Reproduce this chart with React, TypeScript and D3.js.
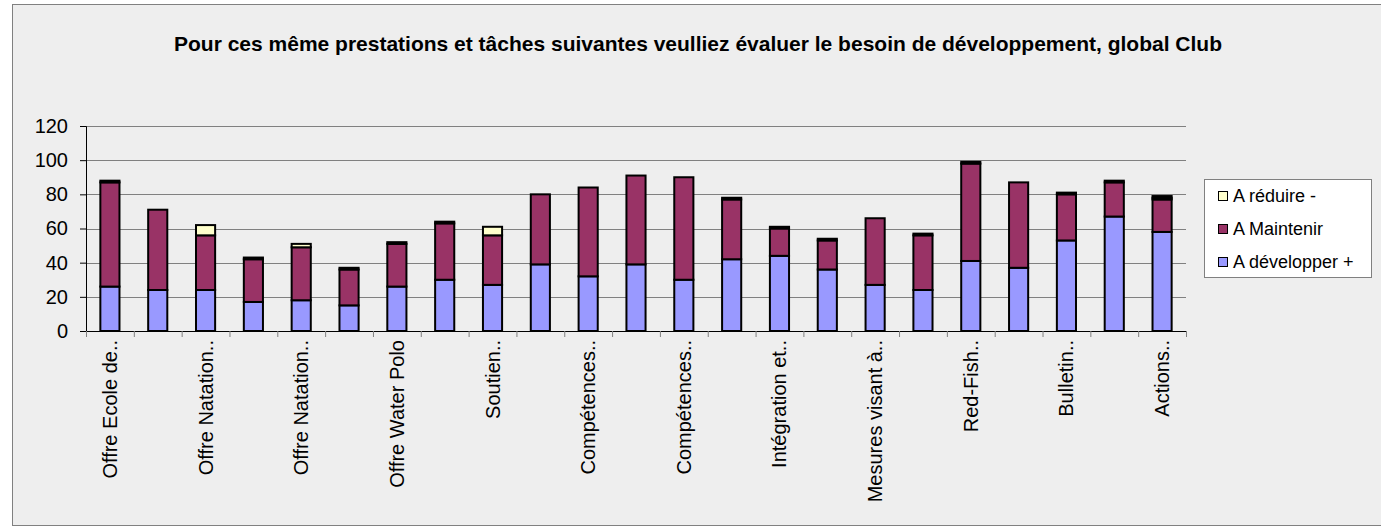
import React, { useEffect, useRef } from 'react';
import * as d3 from 'd3';

const title = 'Pour ces même prestations et tâches suivantes veulliez évaluer le besoin de développement, global Club';

// one label per category, Excel only shows every other one
const categories = [
  'Offre Ecole de..', 'c2', 'Offre Natation..', 'c4', 'Offre Natation..', 'c6',
  'Offre Water Polo', 'c8', 'Soutien..', 'c10', 'Compétences..', 'c12',
  'Compétences..', 'c14', 'Intégration et..', 'c16', 'Mesures visant à..', 'c18',
  'Red-Fish..', 'c20', 'Bulletin..', 'c22', 'Actions..',
];
const shownLabel = categories.map((c, i) => (i % 2 === 0 ? c : ''));

const developper = [26, 24, 24, 17, 18, 15, 26, 30, 27, 39, 32, 39, 30, 42, 44, 36, 27, 24, 41, 37, 53, 67, 58];
const maintenir = [61, 47, 32, 25, 31, 21, 25, 33, 29, 41, 52, 52, 60, 35, 16, 17, 39, 32, 57, 50, 27, 20, 19];
const reduire = [0, 0, 6, 0, 2, 0, 0, 0, 5, 0, 0, 0, 0, 0, 0, 0, 0, 0, 0, 0, 0, 0, 1];
const sansAvis = [1, 0, 0, 1, 0, 1, 1, 1, 0, 0, 0, 0, 0, 1, 1, 1, 0, 1, 1, 0, 1, 1, 1];

const seriesNames = ['A développer +', 'A Maintenir', 'A réduire -', 'Sans avis'];
const seriesColors = ['#9999FF', '#993366', '#FFFFCC', '#000000'];
const legendOrder = [2, 1, 0];
const yTicks = [0, 20, 40, 60, 80, 100, 120];

const W = 1381;
const H = 527;
const FONT = 'Arial, "Liberation Sans", sans-serif';

const App: React.FC = () => {
  const svgRef = useRef<SVGSVGElement>(null);

  useEffect(() => {
    if (!svgRef.current) return;
    const svg = d3.select(svgRef.current);
    svg.selectAll('*').remove();

    const plot = { left: 86, right: 1186, top: 126, bottom: 331 };

    svg.append('rect')
      .attr('x', 12.5).attr('y', 4.5)
      .attr('width', W).attr('height', 521)
      .attr('fill', '#EEEEEE').attr('stroke', '#808080').attr('stroke-width', 1);

    svg.append('text')
      .attr('x', 698).attr('y', 51)
      .attr('text-anchor', 'middle')
      .attr('font-family', FONT).attr('font-weight', 'bold').attr('font-size', 21)
      .attr('fill', '#000')
      .text(title);

    const x = d3.scaleBand<number>()
      .domain(categories.map((_, i) => i))
      .range([plot.left, plot.right])
      .padding(0);
    const y = d3.scaleLinear().domain([0, 120]).range([plot.bottom, plot.top]);

    // gridlines
    svg.append('g')
      .selectAll('line')
      .data(yTicks.filter(t => t > 0))
      .enter()
      .append('line')
      .attr('x1', plot.left).attr('x2', plot.right)
      .attr('y1', d => Math.round(y(d)) + 0.5).attr('y2', d => Math.round(y(d)) + 0.5)
      .attr('stroke', '#808080').attr('stroke-width', 1);

    // stacked bars
    const rows = categories.map((_, i) => ({
      i,
      s0: developper[i], s1: maintenir[i], s2: reduire[i], s3: sansAvis[i],
    }));
    const stack = d3.stack<any>().keys(['s0', 's1', 's2', 's3']);
    const layers = stack(rows);
    const barW = x.bandwidth() * 0.4;

    layers.forEach((layer, k) => {
      svg.append('g')
        .selectAll('rect')
        .data(layer.filter(d => d[1] - d[0] > 0))
        .enter()
        .append('rect')
        .attr('x', d => (x(d.data.i) || 0) + (x.bandwidth() - barW) / 2)
        .attr('y', d => y(d[1]))
        .attr('width', barW)
        .attr('height', d => y(d[0]) - y(d[1]))
        .attr('fill', seriesColors[k])
        .attr('stroke', '#000').attr('stroke-width', 2);
    });

    // y axis
    const yAxis = svg.append('g').attr('transform', `translate(${plot.left},0)`)
      .call(d3.axisLeft(y).tickValues(yTicks).tickSize(6).tickPadding(12));
    yAxis.select('.domain').attr('stroke', '#000');
    yAxis.selectAll('line').attr('stroke', '#000');
    yAxis.selectAll('text')
      .attr('font-family', FONT).attr('font-size', 20).attr('fill', '#000');

    // x axis
    const xTickPos = d3.range(categories.length + 1).map(i => plot.left + i * x.step());
    const xg = svg.append('g');
    xg.append('line')
      .attr('x1', plot.left).attr('x2', plot.right)
      .attr('y1', plot.bottom + 0.5).attr('y2', plot.bottom + 0.5)
      .attr('stroke', '#000');
    xg.selectAll('line.tk')
      .data(xTickPos)
      .enter()
      .append('line')
      .attr('class', 'tk')
      .attr('x1', d => d + 0.5).attr('x2', d => d + 0.5)
      .attr('y1', plot.bottom).attr('y2', plot.bottom + 6)
      .attr('stroke', '#808080');
    xg.selectAll('text')
      .data(categories.map((_, i) => i))
      .enter()
      .append('text')
      .attr('transform', d => `translate(${(x(d) || 0) + x.bandwidth() / 2},${plot.bottom + 9}) rotate(-90)`)
      .attr('text-anchor', 'end')
      .attr('dy', '0.35em')
      .attr('font-family', FONT).attr('font-size', 20).attr('fill', '#000')
      .text(d => shownLabel[d]);

    // legend
    const lg = svg.append('g');
    lg.append('rect')
      .attr('x', 1204.5).attr('y', 179.5).attr('width', 167).attr('height', 98)
      .attr('fill', '#FFFFFF').attr('stroke', '#808080');
    legendOrder.forEach((k, j) => {
      const cy = 196 + j * 33;
      lg.append('rect')
        .attr('x', 1218.5).attr('y', cy - 4.5).attr('width', 9).attr('height', 9)
        .attr('fill', seriesColors[k]).attr('stroke', '#000').attr('stroke-width', 1);
      lg.append('text')
        .attr('x', 1233).attr('y', cy).attr('dy', '0.35em')
        .attr('font-family', FONT).attr('font-size', 18).attr('fill', '#000')
        .text(seriesNames[k]);
    });
  }, []);

  return (
    <svg
      ref={svgRef}
      width={W}
      height={H}
      style={{ display: 'block', position: 'absolute', left: 0, top: 0 }}
    />
  );
};

export default App;
